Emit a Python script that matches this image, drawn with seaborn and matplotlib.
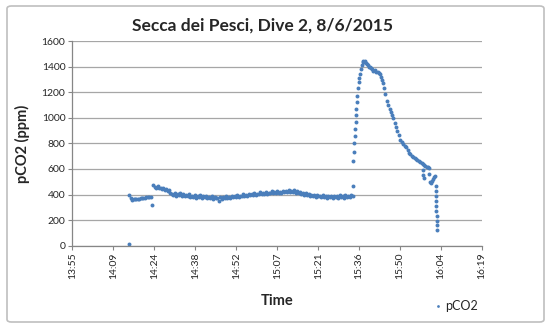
import matplotlib.pyplot as plt
import pandas as pd
import seaborn as sns
from matplotlib.patches import FancyBboxPatch

# times are minutes after midnight
first_time = [855.0]
first_ppm = [12]

# baseline, logged every 30 s from 14:15:12
baseline_start = 855.2
baseline_step = 0.5
baseline_ppm = [
    395, 372, 360, 364, 362, 366, 368, 365, 370, 372,
    374, 376, 378, 380, 382, 384, 318, 478, 462, 448,
    466, 452, 455, 440, 448, 432, 444, 428, 436, 415,
    408, 395, 412, 390, 405, 395, 410, 388, 402, 392,
    398, 385, 405, 380, 392, 384, 398, 375, 390, 382,
    394, 372, 386, 378, 392, 370, 384, 376, 390, 368,
    380, 372, 375, 348, 384, 365, 378, 370, 388, 372,
    380, 376, 392, 378, 386, 382, 396, 380, 390, 388,
    402, 386, 398, 392, 408, 394, 402, 398, 412, 400,
    408, 404, 418, 405, 412, 408, 420, 406, 415, 410,
    424, 412, 418, 410, 426, 414, 420, 412, 428, 416,
    424, 418, 436, 420, 428, 416, 432, 414, 424, 410,
    420, 404, 414, 400, 410, 396, 404, 392, 400, 388,
    398, 384, 396, 386, 392, 378, 394, 384, 390, 375,
    392, 380, 386, 376, 392, 378, 388, 374, 394, 380,
    390, 376, 396, 382, 392, 380, 400, 388,
]

# surfacing spike, denser readings
spike_time = [
    933.85, 934.0, 934.15, 934.3, 934.45, 934.6, 934.75, 934.9, 935.05, 935.2,
    935.4, 935.6, 935.8, 936.0, 936.3, 936.6, 936.9, 937.2, 937.5, 937.8,
    938.1, 938.4, 938.7, 939.0, 939.4, 939.8, 940.2, 940.6, 941.0, 941.5,
    942.0, 942.5, 943.0, 943.4, 943.8, 944.1, 944.4, 944.8, 945.2, 945.7,
    946.2, 946.7, 947.1, 947.5, 948.0, 948.5, 949.0, 949.4, 949.9, 950.4,
    950.9, 951.4, 952.0, 952.5, 953.0, 953.5, 953.9, 954.5, 955.0, 955.5,
    956.0, 956.5, 957.0, 957.5, 958.0, 958.4, 958.5, 958.6, 958.7, 958.9,
    959.3, 959.8, 960.2, 960.5, 960.7, 960.9, 961.1, 961.5, 962.0, 962.4,
    962.7, 963.0, 963.05, 963.1, 963.12, 963.15, 963.18, 963.2, 963.22, 963.25,
    963.28,
]
spike_ppm = [
    470, 660, 730, 800, 860, 910, 970, 1020, 1070, 1120,
    1170, 1230, 1280, 1310, 1345, 1380, 1415, 1440, 1448, 1440,
    1446, 1430, 1420, 1412, 1400, 1395, 1388, 1380, 1368, 1372,
    1360, 1355, 1350, 1340, 1318, 1295, 1270, 1230, 1185, 1135,
    1100, 1070, 1045, 1025, 995, 960, 925, 900, 865, 830,
    810, 795, 782, 768, 750, 728, 714, 700, 692, 686,
    680, 672, 665, 655, 645, 638, 590, 550, 533, 632,
    625, 618, 612, 605, 560, 500, 491, 505, 525, 540,
    548, 470, 430, 390, 350, 310, 270, 230, 190, 160,
    125,
]

tick_start = 835.2  # Excel axis: 0.58 day
tick_step = 14.4    # 0.01 day
n_ticks = 11

baseline_time = [baseline_start + i * baseline_step for i in range(len(baseline_ppm))]
df = pd.DataFrame({
    "time": first_time + baseline_time + spike_time,
    "pCO2": first_ppm + baseline_ppm + spike_ppm,
})

sns.set_style("white")
plt.rcParams["font.family"] = ["Lato", "DejaVu Sans"]

fig = plt.figure(figsize=(5.5, 3.29), dpi=100)
ax = fig.add_axes([0.1315, 0.2532, 0.745, 0.6219])

sns.scatterplot(data=df, x="time", y="pCO2", ax=ax, color="#4a7ebb",
                s=8, linewidth=0, label="pCO2")

ticks = [tick_start + i * tick_step for i in range(n_ticks)]
ax.set_xlim(ticks[0], ticks[-1])
ax.set_xticks(ticks)
ax.set_xticklabels([f"{int(t // 60)}:{int(t % 60):02d}" for t in ticks],
                   rotation=90, fontsize=7.5, color="#262626")
ax.set_ylim(0, 1600)
ax.set_yticks(range(0, 1601, 200))
ax.tick_params(axis="y", labelsize=7.5, labelcolor="#262626")
ax.tick_params(axis="both", direction="out", length=3, width=0.8,
               color="#868686", pad=2, left=True, bottom=True)

ax.yaxis.grid(True, color="#a6a6a6", linewidth=0.9)
ax.xaxis.grid(False)
for side in ["top", "right"]:
    ax.spines[side].set_visible(False)
for side in ["left", "bottom"]:
    ax.spines[side].set_color("#868686")
    ax.spines[side].set_linewidth(0.9)

ax.set_xlabel("Time", fontsize=10.5, fontweight="bold")
ax.set_ylabel("pCO2 (ppm)", fontsize=10.5, fontweight="bold")
ax.xaxis.set_label_coords(0.5, -0.235)
ax.yaxis.set_label_coords(-0.103, 0.5)
fig.text(262 / 550, 1 - 26 / 329, "Secca dei Pesci, Dive 2, 8/6/2015",
         ha="center", va="center", fontsize=12.5, fontweight="bold")

ax.legend(loc="center left", bbox_to_anchor=(428 / 550, 1 - 305.7 / 329),
          bbox_transform=fig.transFigure, frameon=False, fontsize=9,
          handlelength=0.6, handletextpad=0.3, borderpad=0, markerscale=0.7)

fig.patches.append(FancyBboxPatch(
    (7 / 550, 1 - 322 / 329), 537 / 550, 316 / 329,
    boxstyle="round,pad=0,rounding_size=0.008", transform=fig.transFigure,
    fill=False, edgecolor="#bfbfbf", linewidth=1.2))

fig.savefig("out.png", dpi=100)
plt.close(fig)
